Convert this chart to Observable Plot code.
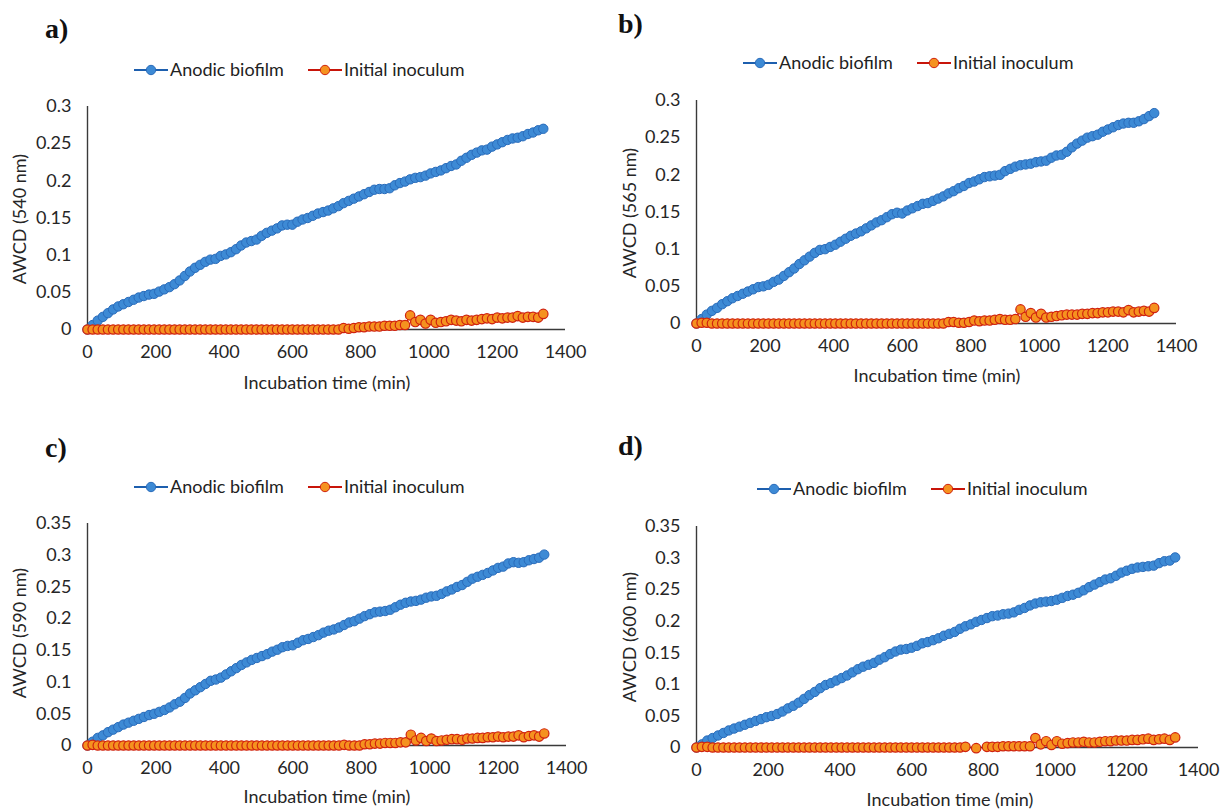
<!DOCTYPE html>
<html><head><meta charset="utf-8">
<script src="https://cdn.jsdelivr.net/npm/d3@7"></script>
<script src="https://cdn.jsdelivr.net/npm/@observablehq/plot@0.6"></script>
<style>
body{margin:0;background:#fff;}
#root{position:relative;width:1223px;height:810px;overflow:hidden;background:#fff;}
#root > svg{position:absolute;}
</style>
</head><body><div id="root"></div>
<script>
// ---------------- DATA ----------------
const times = [
  0,15,30,45,60,75,90,105,120,135,
  150,165,180,195,210,225,240,255,270,285,
  300,315,330,345,360,375,390,405,420,435,
  450,465,480,495,510,525,540,555,570,585,
  600,615,630,645,660,675,690,705,720,735,
  750,765,780,795,810,825,840,855,870,885,
  900,915,930,945,960,975,990,1005,1020,1035,
  1050,1065,1080,1095,1110,1125,1140,1155,1170,1185,
  1200,1215,1230,1245,1260,1275,1290,1305,1320,1335];

const seriesNames = ["Anodic biofilm", "Initial inoculum"];
const xTicks = [0,200,400,600,800,1000,1200,1400];
const yTicks030 = [0,0.05,0.1,0.15,0.2,0.25,0.3];
const yTicks035 = [0,0.05,0.1,0.15,0.2,0.25,0.3,0.35];
const panelTags = ["a)","b)","c)","d)"];
const yLabels = ["AWCD (540 nm)","AWCD (565 nm)","AWCD (590 nm)","AWCD (600 nm)"];
const xLabel = "Incubation time (min)";

// (a) 540 nm
const biofilm540 = [
  0,.006,.012,.017,.022,.027,.031,.034,.037,.040,
  .043,.045,.047,.048,.051,.054,.057,.061,.066,.072,
  .078,.083,.087,.091,.094,.095,.099,.101,.104,.108,
  .113,.117,.119,.121,.126,.130,.133,.136,.140,.141,
  .141,.145,.148,.150,.153,.156,.158,.160,.163,.166,
  .170,.173,.176,.179,.182,.185,.188,.189,.189,.190,
  .194,.197,.199,.202,.204,.205,.207,.210,.212,.214,
  .217,.220,.222,.227,.231,.235,.238,.241,.242,.246,
  .249,.252,.255,.257,.258,.260,.263,.265,.268,.270];
const inoculum540 = [
  0,0,0,0,0,0,0,0,0,0,
  0,0,0,0,0,0,0,0,0,0,
  0,0,0,0,0,0,0,0,0,0,
  0,0,0,0,0,0,0,0,0,0,
  0,0,0,0,0,0,0,0,0,0,
  .002,.001,.002,.003,.003,.004,.004,.004,.005,.005,
  .005,.006,.006,.019,.010,.013,.008,.013,.009,.010,
  .011,.013,.012,.011,.013,.012,.013,.014,.015,.014,
  .016,.015,.016,.016,.018,.016,.017,.017,.016,.021];

// (b) 565 nm
const biofilm565 = [
  0,.006,.012,.017,.021,.026,.030,.034,.037,.040,
  .043,.046,.049,.050,.052,.056,.059,.064,.069,.074,
  .080,.085,.090,.095,.099,.100,.103,.106,.110,.114,
  .118,.121,.124,.128,.132,.136,.139,.143,.147,.149,
  .148,.152,.155,.158,.161,.162,.165,.168,.171,.175,
  .178,.182,.185,.189,.191,.194,.197,.198,.199,.200,
  .205,.208,.211,.213,.214,.215,.217,.218,.219,.223,
  .226,.227,.231,.237,.242,.246,.250,.252,.254,.258,
  .261,.264,.267,.269,.270,.270,.272,.275,.279,.283];
const inoculum565 = [
  0,.001,.001,0,0,0,0,0,0,0,
  0,0,0,0,0,0,0,0,0,0,
  0,0,0,0,0,0,0,0,0,0,
  0,0,0,0,0,0,0,0,0,0,
  0,0,0,0,0,0,0,0,0,.002,
  .002,.001,.001,.002,.004,.003,.004,.004,.005,.006,
  .005,.005,.006,.019,.009,.014,.008,.013,.008,.009,
  .010,.011,.012,.012,.012,.013,.013,.014,.014,.015,
  .015,.016,.016,.015,.018,.015,.016,.017,.016,.021];

// (c) 590 nm
const biofilm590 = [
  0,.006,.012,.016,.021,.025,.029,.033,.036,.039,
  .042,.045,.048,.050,.053,.056,.060,.065,.069,.075,
  .082,.087,.092,.097,.102,.104,.107,.112,.117,.122,
  .127,.131,.135,.138,.141,.144,.148,.151,.155,.157,
  .158,.162,.166,.168,.171,.174,.178,.181,.183,.186,
  .190,.194,.196,.200,.204,.207,.210,.211,.212,.214,
  .218,.222,.225,.227,.228,.230,.233,.235,.236,.239,
  .243,.246,.250,.253,.258,.263,.266,.269,.272,.276,
  .280,.282,.287,.289,.288,.289,.292,.294,.296,.301];
const inoculum590 = [
  0,.001,0,0,0,0,0,0,0,0,
  0,0,0,0,0,0,0,0,0,0,
  0,0,0,0,0,0,0,0,0,0,
  0,0,0,0,0,0,0,0,0,0,
  0,0,0,0,0,0,0,0,0,0,
  .001,0,0,0,.002,.002,.003,.003,.004,.004,
  .004,.005,.005,.017,.008,.012,.007,.011,.007,.008,
  .009,.010,.010,.009,.011,.011,.012,.012,.013,.013,
  .014,.013,.014,.014,.016,.013,.015,.016,.014,.019];

// (d) 600 nm
const biofilm600 = [
  0,.005,.011,.015,.019,.023,.027,.030,.033,.036,
  .039,.042,.045,.048,.050,.053,.057,.062,.066,.071,
  .077,.083,.088,.094,.099,.102,.106,.110,.114,.119,
  .124,.128,.131,.134,.139,.143,.148,.152,.155,.156,
  .158,.161,.165,.167,.170,.173,.177,.180,.183,.188,
  .192,.195,.199,.202,.205,.208,.209,.211,.212,.214,
  .218,.221,.225,.228,.230,.231,.232,.234,.237,.240,
  .242,.245,.249,.254,.258,.262,.266,.268,.272,.277,
  .280,.283,.285,.286,.287,.288,.292,.295,.296,.301];
const inoculum600 = [
  0,.001,.001,0,0,0,0,0,0,0,
  0,0,0,0,0,0,0,0,0,0,
  0,0,0,0,0,0,0,0,0,0,
  0,0,0,0,0,0,0,0,0,0,
  0,0,0,0,0,0,0,0,0,0,
  .001,null,-.001,null,.001,.001,.001,.002,.002,.002,
  .002,.002,.002,.015,.005,.010,.004,.010,.006,.007,
  .008,.008,.009,.008,.008,.009,.010,.010,.011,.011,
  .011,.012,.012,.013,.014,.012,.013,.014,.012,.016];

// ---------------- LAYOUT / STYLE ----------------
const W = 1223, H = 810;
const blueStyle = {line: "#1d5fae", fill: "#3d8ad5", stroke: "#2a6cbb"};
const orangeStyle = {line: "#c8150a", fill: "#f5921f", stroke: "#d0220f"};

const panels = [
  {blue: biofilm540, orange: inoculum540, ticks: yTicks030, ox: 0,   oy: 0,   x0: 87,  x1: 565,  yTop: 106, yBot: 329,
   tag: [45, 38], legendY: 70, legendX: 151, ylab: [20, 219], xlab: [327, 383]},
  {blue: biofilm565, orange: inoculum565, ticks: yTicks030, ox: 612, oy: 0,   x0: 696, x1: 1176, yTop: 100, yBot: 323,
   tag: [618, 33], legendY: 63, legendX: 760, ylab: [630, 213], xlab: [937, 376]},
  {blue: biofilm590, orange: inoculum590, ticks: yTicks035, ox: 0,   oy: 405, x0: 87,  x1: 566,  yTop: 523, yBot: 745,
   tag: [45, 457], legendY: 487, legendX: 151, ylab: [20, 633], xlab: [327, 797]},
  {blue: biofilm600, orange: inoculum600, ticks: yTicks035, ox: 612, oy: 405, x0: 696, x1: 1198, yTop: 526, yBot: 747,
   tag: [618, 455], legendY: 489, legendX: 774, ylab: [630, 637], xlab: [950, 800]}
];

const root = document.getElementById("root");
const axisColor = "#3a3a3a";
const uiFont = "Lato, 'Open Sans', sans-serif";

panels.forEach((p, k) => {
  const pw = 611, ph = 405;
  const rowsB = times.map((t, i) => ({t, v: p.blue[i], s: seriesNames[0]}));
  const rowsO = times.map((t, i) => ({t, v: p.orange[i], s: seriesNames[1]}));
  const ymax = p.ticks[p.ticks.length - 1];
  const chart = Plot.plot({
    width: pw, height: ph,
    marginLeft: p.x0 - p.ox,
    marginRight: p.ox + pw - p.x1,
    marginTop: p.yTop - p.oy,
    marginBottom: p.oy + ph - p.yBot,
    style: {background: "transparent", fontFamily: uiFont, fontSize: "18px", color: "#262626", overflow: "visible"},
    x: {domain: [0, 1400], ticks: xTicks, tickSize: 0, tickPadding: 16, label: null, tickFormat: d => String(d)},
    y: {domain: [0, ymax], ticks: p.ticks, tickSize: 0, tickPadding: 16, label: null, tickFormat: d => String(d)},
    marks: [
      Plot.ruleY([0], {x1: 0, x2: 1400, stroke: axisColor, strokeWidth: 1.4}),
      Plot.ruleX([0], {y1: 0, y2: ymax, stroke: axisColor, strokeWidth: 1.4}),
      Plot.line(rowsB, {x: "t", y: "v", stroke: blueStyle.line, strokeWidth: 1.6}),
      Plot.dot(rowsB, {x: "t", y: "v", r: 4.7, fill: blueStyle.fill, stroke: blueStyle.stroke, strokeWidth: 1}),
      Plot.line(rowsO, {x: "t", y: "v", stroke: orangeStyle.line, strokeWidth: 1.6}),
      Plot.dot(rowsO, {x: "t", y: "v", r: 4.7, fill: orangeStyle.fill, stroke: orangeStyle.stroke, strokeWidth: 1.2})
    ]
  });
  chart.style.position = "absolute";
  chart.style.left = p.ox + "px";
  chart.style.top = p.oy + "px";
  chart.style.maxWidth = "none";
  root.appendChild(chart);
});

// overlay for panel tags, legends and axis titles
const ov = d3.select(root).append("svg")
  .attr("width", W).attr("height", H)
  .style("position", "absolute").style("left", 0).style("top", 0)
  .style("pointer-events", "none");

panels.forEach((p, k) => {
  ov.append("text").attr("x", p.tag[0]).attr("y", p.tag[1])
    .attr("font-family", "'Liberation Serif', 'Times New Roman', serif")
    .attr("font-weight", "bold").attr("font-size", 28).attr("fill", "#111")
    .text(panelTags[k]);

  const items = [
    {name: seriesNames[0], st: blueStyle, cx: p.legendX},
    {name: seriesNames[1], st: orangeStyle, cx: p.legendX + 174}
  ];
  items.forEach(it => {
    ov.append("line").attr("x1", it.cx - 17).attr("x2", it.cx + 17)
      .attr("y1", p.legendY).attr("y2", p.legendY)
      .attr("stroke", it.st.line).attr("stroke-width", 2);
    ov.append("circle").attr("cx", it.cx).attr("cy", p.legendY).attr("r", 4.7)
      .attr("fill", it.st.fill).attr("stroke", it.st.stroke).attr("stroke-width", 1);
    ov.append("text").attr("x", it.cx + 19).attr("y", p.legendY).attr("dy", "0.36em")
      .attr("font-family", uiFont).attr("font-size", 18).attr("fill", "#222")
      .text(it.name);
  });

  ov.append("text").attr("x", p.xlab[0]).attr("y", p.xlab[1]).attr("dy", "0.36em")
    .attr("text-anchor", "middle").attr("font-family", uiFont)
    .attr("font-size", 18).attr("fill", "#262626").text(xLabel);
  ov.append("text").attr("transform", `translate(${p.ylab[0]},${p.ylab[1]}) rotate(-90)`)
    .attr("dy", "0.36em").attr("text-anchor", "middle").attr("font-family", uiFont)
    .attr("font-size", 18).attr("fill", "#262626").text(yLabels[k]);
});
</script>
</body></html>
